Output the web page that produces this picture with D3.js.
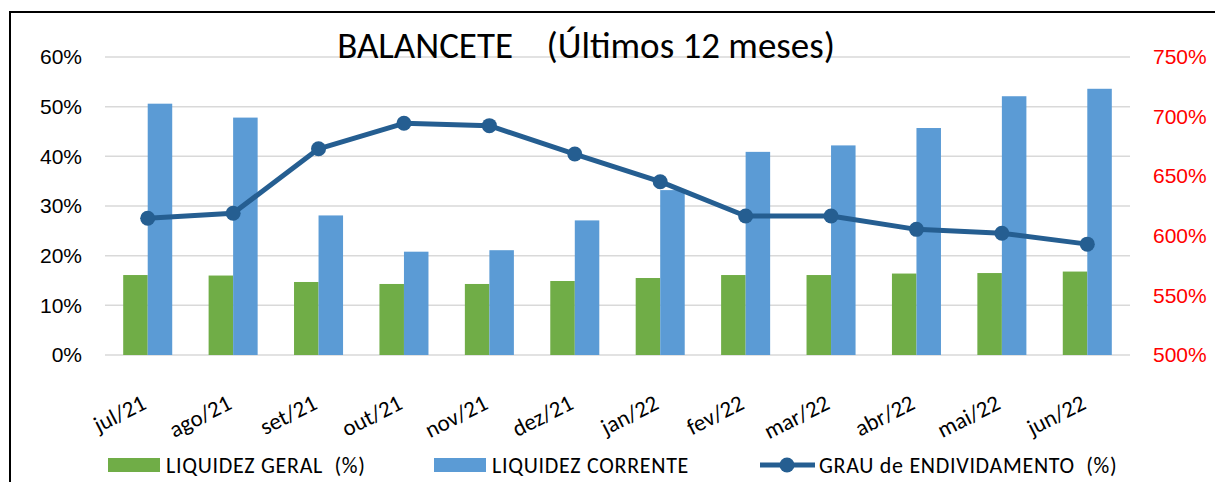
<!DOCTYPE html>
<html>
<head>
<meta charset="utf-8">
<script src="https://cdn.jsdelivr.net/npm/d3@7"></script>
<style>
	body { margin: 0; background: #fff; }
	svg { display: block; font-family: Carlito, Calibri, Lato, sans-serif; }
</style>
</head>
<body>
<svg id="chart" width="1215" height="482"></svg>
<script>
	var months = ['jul/21', 'ago/21', 'set/21', 'out/21', 'nov/21', 'dez/21',
		'jan/22', 'fev/22', 'mar/22', 'abr/22', 'mai/22', 'jun/22'];

	// liquidez geral (%), green bars, left axis
	var liquidezGeral = [16.1, 16.0, 14.7, 14.3, 14.3, 14.9, 15.5, 16.1, 16.1, 16.4, 16.5, 16.8];
	// liquidez corrente, blue bars, left axis
	var liquidezCorrente = [50.6, 47.8, 28.1, 20.8, 21.1, 27.1, 33.2, 40.9, 42.2, 45.7, 52.1, 53.6];
	// grau de endividamento (%), line, right axis
	var endividamento = [614.7, 618.9, 673, 694.4, 692.4, 668.6, 645.4, 616.6, 616.6, 605.4, 602.1, 593];

	var leftTicks = [0, 10, 20, 30, 40, 50, 60];
	var rightTicks = [500, 550, 600, 650, 700, 750];

	var svg = d3.select('#chart');
	var plotLeft = 105, plotRight = 1130, plotTop = 57, plotBottom = 355;

	// frame (only left and top edges are inside the picture)
	svg.append('path')
		.attr('d', 'M10,482V12H1215')
		.attr('fill', 'none')
		.attr('stroke', '#000')
		.attr('stroke-width', 2);

	var x = d3.scaleBand().domain(months).range([plotLeft, plotRight])
		.paddingInner(0.426).paddingOuter(0.213);
	var xSub = d3.scaleBand().domain(['geral', 'corrente']).range([0, x.bandwidth()]);
	var yL = d3.scaleLinear().domain([0, 60]).range([plotBottom, plotTop]);
	var yR = d3.scaleLinear().domain([500, 750]).range([plotBottom, plotTop]);

	// gridlines
	svg.append('g')
		.selectAll('line')
		.data(leftTicks)
		.enter()
		.append('line')
		.attr('x1', plotLeft).attr('x2', plotRight)
		.attr('y1', function(d){ return yL(d); })
		.attr('y2', function(d){ return yL(d); })
		.attr('stroke', '#d9d9d9')
		.attr('stroke-width', 1.5);

	// left axis
	var axisL = svg.append('g')
		.attr('transform', 'translate(' + (plotLeft - 23) + ',0)')
		.call(d3.axisLeft(yL).tickValues(leftTicks).tickSize(0).tickFormat(function(d){ return d + '%'; }));
	axisL.select('.domain').remove();
	axisL.selectAll('text').attr('font-size', 21).attr('fill', '#000').attr('font-family', null).attr('x', 0);

	// right axis
	var axisR = svg.append('g')
		.attr('transform', 'translate(' + (plotRight + 23) + ',0)')
		.call(d3.axisRight(yR).tickValues(rightTicks).tickSize(0).tickFormat(function(d){ return d + '%'; }));
	axisR.select('.domain').remove();
	axisR.selectAll('text').attr('font-size', 21).attr('fill', '#ff0000').attr('font-family', null).attr('x', 0);

	// bars
	var groups = svg.append('g')
		.selectAll('g')
		.data(months)
		.enter()
		.append('g')
		.attr('transform', function(d){ return 'translate(' + x(d) + ',0)'; });

	groups.append('rect')
		.attr('x', xSub('geral'))
		.attr('width', xSub.bandwidth())
		.attr('y', function(d, i){ return yL(liquidezGeral[i]); })
		.attr('height', function(d, i){ return plotBottom - yL(liquidezGeral[i]); })
		.attr('fill', '#70ad47');

	groups.append('rect')
		.attr('x', xSub('corrente'))
		.attr('width', xSub.bandwidth())
		.attr('y', function(d, i){ return yL(liquidezCorrente[i]); })
		.attr('height', function(d, i){ return plotBottom - yL(liquidezCorrente[i]); })
		.attr('fill', '#5b9bd5');

	// line
	var cx = function(d, i){ return x(months[i]) + x.bandwidth() / 2; };
	svg.append('path')
		.datum(endividamento)
		.attr('d', d3.line().x(cx).y(function(d){ return yR(d); }))
		.attr('fill', 'none')
		.attr('stroke', '#255e91')
		.attr('stroke-width', 5)
		.attr('stroke-linejoin', 'round');

	svg.append('g')
		.selectAll('circle')
		.data(endividamento)
		.enter()
		.append('circle')
		.attr('cx', cx)
		.attr('cy', function(d){ return yR(d); })
		.attr('r', 7.5)
		.attr('fill', '#255e91');

	// category labels
	svg.append('g')
		.selectAll('text')
		.data(months)
		.enter()
		.append('text')
		.attr('transform', function(d){
			return 'translate(' + (x(d) + x.bandwidth() / 2) + ',408) rotate(-27)';
		})
		.attr('text-anchor', 'end')
		.attr('font-size', 23)
		.text(function(d){ return d; });

	// title
	svg.append('text')
		.attr('x', 586)
		.attr('y', 58)
		.attr('text-anchor', 'middle')
		.attr('font-size', 37)
		.style('white-space', 'pre')
		.text('BALANCETE    (Últimos 12 meses)');

	// legend
	var legend = svg.append('g').attr('font-size', 22).attr('letter-spacing', 0.7);
	legend.append('rect').attr('x', 108).attr('y', 458).attr('width', 52).attr('height', 14).attr('fill', '#70ad47');
	legend.append('text').attr('x', 166).attr('y', 473).style('white-space', 'pre').text('LIQUIDEZ GERAL  (%)');
	legend.append('rect').attr('x', 434).attr('y', 458).attr('width', 52).attr('height', 14).attr('fill', '#5b9bd5');
	legend.append('text').attr('x', 492).attr('y', 473).text('LIQUIDEZ CORRENTE');
	legend.append('line').attr('x1', 760).attr('x2', 815).attr('y1', 465).attr('y2', 465)
		.attr('stroke', '#255e91').attr('stroke-width', 5);
	legend.append('circle').attr('cx', 787).attr('cy', 465).attr('r', 7.5).attr('fill', '#255e91');
	legend.append('text').attr('x', 819).attr('y', 473).style('white-space', 'pre').text('GRAU de ENDIVIDAMENTO  (%)');
</script>
</body>
</html>
